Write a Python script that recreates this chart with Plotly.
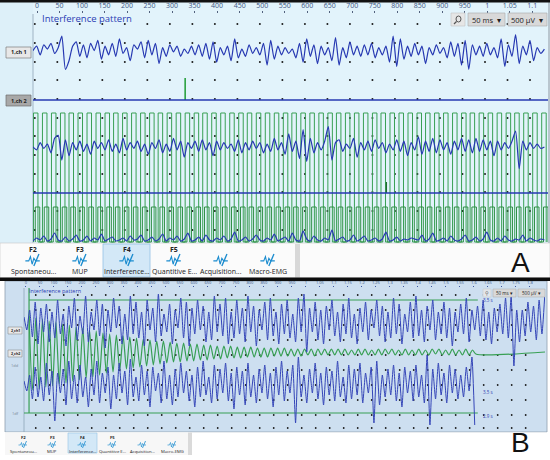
import plotly.graph_objects as go

# ======================= DATA =======================
A_TICK_MS = [0, 50, 100, 150, 200, 250, 300, 350, 400, 450, 500, 550,
             600, 650, 700, 750, 800, 850, 900, 950, 1000, 1050, 1100]
A_TICK_TEXT = ["0", "50", "100", "150", "200", "250", "300", "350", "400",
               "450", "500", "550", "600", "650", "700", "750", "800", "850",
               "900", "950", "1", "1.05", "1.1"]
B_TICK_MS = [0, 50, 100, 150, 200, 250, 300, 350, 400, 450, 500, 550, 600,
             650, 700, 750, 800, 850, 900, 950, 1000, 1050, 1100, 1150, 1200,
             1250, 1300, 1350, 1400, 1450, 1500, 1550, 1600, 1650, 1700, 1750,
             1800]
B_TICK_TEXT = ["0", "50", "100", "150", "200", "250", "300", "350", "400",
               "450", "500", "550", "600", "650", "700", "750", "800", "850",
               "900", "950", "1", "1.05", "1.1", "1.15", "1.2", "1.25", "1.3",
               "1.35", "1.4", "1.45", "1.5", "1.55", "1.6", "1.65", "1.7",
               "1.75", "1.8"]

# Panel A: samples every 8 ms starting at -9 ms (screen amplitude units, up = +)
A_T0_MS, A_DT_MS = -9, 8
A_CH1 = [1, 4, -2, 5, 2, 6, -1, 3,
         11, -12, -6, 4,
         7, -3, 5, -4, 6, 1, 8, -5, 4,
         -2, 6, -3, 9, -1, 3, -6, 5, 2, 7,
         -4, 8, -2, 6, -8, 3, -3, 5, 0, 4,
         -3, 2, -1, 4, -2, 5, -3, 6, -5, 7,
         -7, 3, -2, 4, -6, 9, -4, 2, -3, 5,
         -1, 3, -2, 6, -9, 8, -5, 4, -2, 3,
         -1, 2, -4, 6, -7, 9, -3, 5, -8, 4,
         -2, 3, -6, 10, -9, 3, -4, 7, -2, 4,
         -3, 5, -2, 6, -4, 3, -2, 4, -7, 11,
         -10, 9, -5, 4, -3, 6, -2, 4, -8, 3,
         -2, 5, -1, 3, -4, 7, -3, 6, -9, 8,
         -12, 5, -2, 4, -3, 6, -2, 3, -4, 9,
         -10, 5, -3, 12, -8, 4, -2, 8, -6, 3, -1, 2]
A_CH3 = [0, -2, 3, -1, 2, -4, 6, 8, -9, 5,
         -6, 3, -2, 4, -3, 2, -5, 4, -1, 3,
         -2, 5, -3, 2, -4, 6, -2, 3, -1, 4,
         -3, 2, -5, 3, -1, 5, -4, 2, -3, 6,
         -2, 4, -7, 3, -1, 4, -3, 5, -2, 3,
         -6, 4, -2, 3, -1, 2, -3, 5, -4, 3,
         -2, 4, -1, 3, -4, 2, -3, 6, -2, 3,
         -5, 9, -3, 4, -8, 12, -10, 6, -4, 3,
         -2, 4, 14, -9, 3, 5, -3, 2, -1, 6,
         -7, 3, -2, 4, -3, 5, -1, 3, -4, 2,
         -2, 5, -3, 4, -6, 3, -2, 7, -5, 4,
         -3, 6, -4, 5, -2, 3, -5, 4, -2, 6,
         -3, 5, -4, 6, -3, 5, -2, 4, -6, 4,
         -2, 3, -1, 4, 11, -15, 4, -2, 3, -1,
         2, -1, 0]
A_CH5 = [0, 3, 1, 5, 0, 2, 8, 1, 0, 4,
         0, 2, 6, 0, 1, 5, 0, 3, 1, 7,
         0, 2, 4, 0, 1, 3, 0, 5, 1, 2,
         6, 0, 1, 4, 0, 2, 7, 0, 3, 1,
         5, 0, 2, 8, 0, 1, 4, 0, 6, 1,
         0, 3, 1, 5, 0, 2, 9, 0, 1, 4,
         0, 2, 6, 1, 0, 3, 1, 7, 0, 2,
         4, 0, 8, 1, 0, 10, 2, 0, 5, 1,
         0, 3, 1, 11, 0, 2, 4, 0, 1, 6,
         0, 2, 5, 0, 1, 3, 0, 2, 9, 0,
         1, 4, 0, 2, 1, 3, 2, 1, 6, 0,
         2, 8, 0, 1, 3, 0, 5, 1, 0, 2,
         6, 0, 1, 4, 0, 2, 9, 1, 0, 3,
         0, 5, 1, 0, 2, 1, 6, 0, 3, 1,
         0, 2, 1]
A_STIM_ON_MS = [-8, 12, 32, 52, 71, 91, 111, 131, 151, 170, 190, 210, 230,
                250, 269, 289, 309, 329, 349, 368, 388, 408, 428, 448, 467,
                487, 507, 527, 547, 566, 586, 606, 626, 646, 665, 685, 705,
                725, 745, 764, 784, 804, 824, 844, 863, 883, 903, 923, 943,
                962, 982, 1002, 1022, 1042, 1061, 1081, 1101, 1121]
A_STIM_WIDTH_MS = 10
A_STIM2_LAG_MS = 4
A_SPIKE_MS = [329, 776]
A_SPIKE_AMP = [22, 11]

# Panel B: samples every 10 ms starting at -7 ms
B_T0_MS, B_DT_MS = -7, 10
B_CH1 = [5, -8, 12, -15, 20, -22, 14, -10, 18, -20,
         10, -16, 22, -12, 8, -24, 16, -6, 24, -18,
         6, -12, 26, -20, 10, -8, 22, -14, 18, -26,
         12, -10, 24, -6, 16, -22, 8, -18, 26, -12,
         20, -16, 10, -24, 22, -8, 14, -20, 28, -14,
         8, -10, 18, -22, 12, -6, 24, -16, 20, -24,
         14, -12, 22, -8, 16, -20, 10, -18, 26, -10,
         18, -14, 24, -22, 10, -16, 22, -12, 14, -20,
         26, -10, 16, -24, 12, -8, 20, -18, 24, -14,
         10, -22, 18, -12, 22, -16, 8, -20, 24, -10,
         28, -30, 14, -10, 20, -18, 12, -22, 16, -8,
         22, -14, 10, -20, 18, -12, 24, -16, 8, -22,
         14, -10, 20, -18, 12, -6, 22, -14, 16, -20,
         10, -16, 24, -12, 18, -22, 8, -10, 20, -16,
         26, -14, 12, -20, 16, -8, 22, -18, 10, -12,
         20, -16, 14, -24, 10, -10, 18, -12, 24, -20,
         12, -8, 16, -14, 22, -18, 10, -22, 14, -10,
         18, -12, 24, -16, 26, -44, 12, -20, 12, -14,
         20, -10, 16, -18, 22, -12, 26]
B_CH2 = [4, -6, 10, -14, 18, -12, 8, -16, 22, -10,
         14, -36, 12, -8, 16, -20, 24, -14, 10, -18,
         20, -12, 8, -22, 16, -10, 24, -18, 12, -8,
         18, -24, 10, -14, 22, -8, 14, -20, 26, -12,
         8, -16, 20, -10, 14, -22, 18, -6, 12, -18,
         24, -14, 10, -20, 16, -12, 22, -8, 14, -16,
         10, -22, 18, -12, 24, -10, 8, -18, 20, -14,
         16, -8, 22, -16, 12, -24, 18, -10, 14, -20,
         22, -12, 10, -18, 16, -8, 20, -14, 12, -22,
         18, -10, 24, -16, 14, -8, 20, -38, 28, -12,
         10, -18, 16, -8, 22, -14, 12, -20, 18, -10,
         14, -16, 24, -12, 8, -18, 20, -14, 16, -10,
         22, -18, 12, -8, 18, -38, 24, -20, 10, -12,
         16, -10, 20, -16, 12, -22, 18, -8, 14, -16,
         20, -12, 10, -18, 30, -40, 16, -14, 22, -10,
         12, -18, 20, -8, 16, -14, 10, -12, 18, -6,
         28, -40]
B_GREEN_T0_MS, B_GREEN_DT_MS = 11, 12
B_GREEN = [36, -38, 34, -37, 33, -35, 31, -34, 30, -32,
           28, -31, 27, -29, 25, -28, 24, -26, 22, -25,
           21, -23, 19, -21, 18, -20, 17, -18, 16, -17,
           15, -16, 14, -15, 13, -14, 12, -13, 11, -12,
           11, -11, 10, -10, 9, -10, 9, -9, 8, -9,
           8, -8, 7, -8, 7, -7, 6, -7, 6, -6,
           6, -6, 5, -6, 5, -5, 5, -5, 4, -5,
           4, -5, 4, -4, 4, -4, 4, -4, 3, -4,
           3, -4, 3, -3, 3, -4, 3, -3, 3, -3,
           3, -3, 3, -3, 3, -3, 2, -3, 3, -3,
           3, -3, 2, -3, 3, -3, 3, -2, 3, -3,
           2, -3, 3, -3, 2, -3, 3, -3, 2, -3,
           3, -2, 3, -3, 2, -3, 3, -3, 2, -3,
           3, -3, 2, -2]
B_CURSOR_MS = [11, 1614]
B_CURSOR_LABELS = ["3.5 s", "3.5 s", "2.9 s"]

TOOLBAR_KEYS = ["F2", "F3", "F4", "F5", "", ""]
TOOLBAR_NAMES = ["Spontaneou...", "MUP", "Interference...", "Quantitive E...",
                 "Acquisition...", "Macro-EMG"]

# ======================= LAYOUT / STYLE =======================
W, H = 550, 460
FONT = "Open Sans"
BLUE_A = "#2638b2"
BLUE_B = "#3445b8"
GREEN = "#38a054"
DOT = "#1c1c1c"
A_GAIN = 1.45          # screen px per amplitude unit, panel A EMG traces
A_RANGE = [-9, 1135]
B_RANGE = [-7, 1854]
A_ROWS = dict(ch1=52, ch2=100, top=113, ch3=147, ch4=193, low2=207, ch5=241, bottom=242)
B_ROWS = dict(ch1=322, grn=352, ch2=385, cur1=300, cur2=413)


def X(px):
    return px / W


def Y(py):
    return 1 - py / H


shapes, annotations = [], []


def rect(x0, y0, x1, y1, fill, line=None, lw=0.8, layer="below"):
    shapes.append(dict(type="rect", xref="paper", yref="paper",
                       x0=X(x0), x1=X(x1), y0=Y(y1), y1=Y(y0),
                       fillcolor=fill, layer=layer,
                       line=dict(color=line or fill, width=lw if line else 0)))


def text(px, py, s, size, color="#222", bold=False, xanchor="center",
         family=FONT):
    annotations.append(dict(xref="paper", yref="paper", x=X(px), y=Y(py),
                            text=("<b>%s</b>" % s) if bold else s,
                            showarrow=False, xanchor=xanchor, yanchor="middle",
                            font=dict(size=size, color=color, family=family)))


def icon(cx, cy, s, color="#1b8ccf"):
    pts = [(-9, 1), (-5, 1), (-3, -4), (-1, 5), (1, -2), (3, 1), (8, 1)]
    p = "M " + " L ".join("%f,%f" % (X(cx + s * a), Y(cy + s * b)) for a, b in pts)
    shapes.append(dict(type="path", xref="paper", yref="paper", path=p,
                       line=dict(color=color, width=1.3 * s), layer="above"))
    shapes.append(dict(type="line", xref="paper", yref="paper",
                       x0=X(cx + s * 1), y0=Y(cy + s * 7), x1=X(cx + s * 7), y1=Y(cy - s * 7),
                       line=dict(color=color, width=1.6 * s), layer="above"))


fig = go.Figure()

# ---------------- backgrounds ----------------
rect(0, 0, 550, 460, "white")
# panel A
rect(0, 2, 550, 243, "#e2f3fb")
rect(0, 2, 33, 243, "#ddf0f9")
shapes.append(dict(type="line", xref="paper", yref="paper", x0=X(33), x1=X(33),
                   y0=Y(14), y1=Y(243), line=dict(color="#9fb4c4", width=1), layer="below"))
rect(548, 2, 550, 243, "#b9c6cf")
rect(0, 0, 550, 2.5, "#111111", layer="above")
# toolbar A
rect(0, 243, 550, 278, "#fbfbfb", line="#c8c8c8", lw=0.6)
rect(103, 244, 150, 277, "#d3e8f7", line="#94c2e6", lw=0.8)
rect(295, 244, 300, 278, "#d8d8d8")
rect(0, 277.5, 550, 281, "#0d0d0d", layer="above")
# panel B
rect(5, 281, 547, 432, "#cddff0", line="#8f9fae", lw=0.8)
shapes.append(dict(type="line", xref="paper", yref="paper", x0=X(24), x1=X(24),
                   y0=Y(288), y1=Y(432), line=dict(color="#8ea4b8", width=0.8), layer="below"))
# toolbar B
rect(0, 432.5, 550, 460, "#ffffff")
rect(5, 432.5, 190, 455, "#f7f7f7")
rect(68, 433, 97, 453, "#d3e8f7", line="#94c2e6", lw=0.6)
rect(188, 432.5, 192, 455, "#dadada")

# ---------------- grid dots ----------------
a_dot_x, a_dot_y = [], []
for r in [24, 43, 62, 80, 99, 118, 136, 155, 174, 192, 211, 230]:
    for t in A_TICK_MS:
        a_dot_x.append(t - 5)
        a_dot_y.append(r)
fig.add_trace(go.Scatter(x=a_dot_x, y=a_dot_y, mode="markers", xaxis="x", yaxis="y",
                         marker=dict(size=2, color=DOT), hoverinfo="skip"))
b_dot_x, b_dot_y = [], []
for r in [295, 310, 325, 340, 355, 370, 385, 400, 415, 428]:
    for t in B_TICK_MS:
        b_dot_x.append(t - 15)
        b_dot_y.append(r)
fig.add_trace(go.Scatter(x=b_dot_x, y=b_dot_y, mode="markers", xaxis="x2", yaxis="y2",
                         marker=dict(size=1.8, color=DOT), hoverinfo="skip"))


def times(t0, dt, n):
    return [t0 + dt * i for i in range(n)]


def line(x, y, color, width, ax="", shape="linear", smooth=None):
    kw = dict(color=color, width=width, shape=shape)
    if smooth is not None:
        kw["smoothing"] = smooth
    fig.add_trace(go.Scatter(x=x, y=y, mode="lines", xaxis="x" + ax, yaxis="y" + ax,
                             line=kw, hoverinfo="skip"))


# ---------------- panel A traces ----------------
def stim(onsets, lag, top, low):
    xs, ys = [], []
    for on in onsets:
        s = on + lag
        xs += [s, s, s + A_STIM_WIDTH_MS, s + A_STIM_WIDTH_MS]
        ys += [low, top, top, low]
    return xs, ys


sx, sy = stim(A_STIM_ON_MS, 0, A_ROWS["top"], A_ROWS["bottom"])
line(sx, sy, GREEN, 1.0)
sx, sy = stim(A_STIM_ON_MS, A_STIM2_LAG_MS, A_ROWS["low2"], A_ROWS["bottom"])
line(sx, sy, "#2f8f45", 1.0)
line([A_SPIKE_MS[0]] * 2, [A_ROWS["ch2"], A_ROWS["ch2"] - A_SPIKE_AMP[0]], "#2aa040", 1.6)
line([A_SPIKE_MS[1]] * 2, [A_ROWS["ch4"], A_ROWS["ch4"] - A_SPIKE_AMP[1]], "#1f6b30", 1.3)

line(times(A_T0_MS, A_DT_MS, len(A_CH1)), [A_ROWS["ch1"] - A_GAIN * v for v in A_CH1],
     BLUE_A, 1.2, shape="spline", smooth=0.6)
line(A_RANGE, [A_ROWS["ch2"]] * 2, BLUE_A, 1.3)
line(times(A_T0_MS, A_DT_MS, len(A_CH3)), [A_ROWS["ch3"] - A_GAIN * v for v in A_CH3],
     BLUE_A, 1.2, shape="spline", smooth=0.6)
line(A_RANGE, [A_ROWS["ch4"]] * 2, BLUE_A, 1.3)
line(times(A_T0_MS, A_DT_MS, len(A_CH5)), [A_ROWS["ch5"] - v for v in A_CH5],
     BLUE_A, 1.2, shape="spline", smooth=0.6)

# ---------------- panel B traces ----------------
line([B_CURSOR_MS[0]] * 2, [288, B_ROWS["cur2"]], GREEN, 1.2, ax="2")
line(B_CURSOR_MS, [B_ROWS["cur1"]] * 2, GREEN, 1.0, ax="2")
line([B_RANGE[0], B_CURSOR_MS[1]], [B_ROWS["cur2"]] * 2, GREEN, 1.2, ax="2")
gt = times(B_GREEN_T0_MS, B_GREEN_DT_MS, len(B_GREEN))
line(gt + [B_RANGE[1]], [B_ROWS["grn"] - v for v in B_GREEN] + [B_ROWS["grn"]],
     GREEN, 1.2, ax="2", shape="spline", smooth=0.7)
line(times(B_T0_MS, B_DT_MS, len(B_CH1)), [B_ROWS["ch1"] - v for v in B_CH1],
     BLUE_B, 1.0, ax="2", shape="spline", smooth=0.5)
line(times(B_T0_MS, B_DT_MS, len(B_CH2)), [B_ROWS["ch2"] - v for v in B_CH2],
     BLUE_B, 1.0, ax="2", shape="spline", smooth=0.5)
for row, lab in zip([300, 392, 416], B_CURSOR_LABELS):
    annotations.append(dict(xref="x2", yref="y2", x=B_CURSOR_MS[1] + 10, y=row,
                            text=lab, showarrow=False, xanchor="left",
                            font=dict(size=4.5, color="#3040b0", family=FONT)))

# ---------------- panel A texts / widgets ----------------
text(40, 19, "Interference pattern", 9.5, color="#2b3db4", xanchor="left")
rect(6, 47, 31, 58, "#e8e8e8", line="#7d7d7d", lw=0.7, layer="above")
text(18.5, 52.5, "1,ch 1", 5.5, bold=True)
rect(6, 95, 31, 106, "#a8a8a8", line="#6d6d6d", lw=0.7, layer="above")
text(18.5, 100.5, "1,ch 2", 5.5, bold=True)
# zoom and scale selectors
rect(451, 13, 465, 26, "#e6e6e6", line="#c4c4c4", lw=0.6, layer="above")
shapes.append(dict(type="circle", xref="paper", yref="paper", x0=X(456), x1=X(461),
                   y0=Y(22), y1=Y(16), line=dict(color="#555", width=1), layer="above"))
shapes.append(dict(type="line", xref="paper", yref="paper", x0=X(456.5), x1=X(454),
                   y0=Y(21.5), y1=Y(24), line=dict(color="#555", width=1.2), layer="above"))
rect(468, 13, 505, 26, "#d9d9d9", line="#a9a9a9", lw=0.6, layer="above")
text(486, 19.5, "50 ms  ▾", 7.5, color="#222")
rect(508, 13, 547, 26, "#d9d9d9", line="#a9a9a9", lw=0.6, layer="above")
text(527, 19.5, "500 µV  ▾", 7.5, color="#222")

# toolbar A
a_cx = [33, 80, 127, 174, 221, 268]
for cx, k, nm in zip(a_cx, TOOLBAR_KEYS, TOOLBAR_NAMES):
    if k:
        text(cx, 249.5, k, 7, bold=True)
    icon(cx, 260, 0.85)
    text(cx, 271.5, nm, 7, color="#222")
text(520, 262, "A", 28, color="#111", family="Liberation Sans")

# ---------------- panel B texts / widgets ----------------
text(27, 291, "Interference pattern", 5.5, color="#2b3db4", xanchor="left")
rect(8, 327, 22, 334, "#e8e8e8", line="#7d7d7d", lw=0.5, layer="above")
text(15, 330.5, "2,ch1", 3.6, bold=True)
rect(8, 350, 22, 357, "#e8e8e8", line="#7d7d7d", lw=0.5, layer="above")
text(15, 353.5, "2,ch2", 3.6, bold=True)
text(15, 365, "1dd", 4, color="#7a8796")
text(15, 413, "1df", 4, color="#7a8796")
rect(483, 289, 491, 297, "#e2e6ea", line="#c4c4c4", lw=0.5, layer="above")
text(487, 293, "⚲", 5, color="#555")
rect(493, 289, 516, 297, "#d9d9d9", line="#a9a9a9", lw=0.5, layer="above")
text(504.5, 293, "50 ms ▾", 4.5)
rect(518, 289, 545, 297, "#d9d9d9", line="#a9a9a9", lw=0.5, layer="above")
text(531.5, 293, "500 µV ▾", 4.5)

b_cx = [23, 52, 82, 112, 142, 172]
for cx, k, nm in zip(b_cx, TOOLBAR_KEYS, TOOLBAR_NAMES):
    if k:
        text(cx, 437, k, 4.2, bold=True)
    icon(cx, 444.5, 0.5)
    text(cx, 451, nm, 4.2, color="#222")
text(520, 442, "B", 28, color="#111", family="Liberation Sans")

# ---------------- axes ----------------
fig.update_layout(
    width=W, height=H, margin=dict(l=0, r=0, t=0, b=0),
    paper_bgcolor="white", plot_bgcolor="rgba(0,0,0,0)", showlegend=False,
    shapes=shapes, annotations=annotations,
    xaxis=dict(domain=[X(33), X(548)], range=A_RANGE, anchor="y", side="top",
               tickmode="array", tickvals=A_TICK_MS, ticktext=A_TICK_TEXT,
               tickfont=dict(size=7, color="#3b5583", family=FONT),
               ticks="outside", ticklen=2, tickcolor="#52627e",
               showgrid=False, zeroline=False, showline=False, fixedrange=True),
    yaxis=dict(domain=[Y(243), Y(14)], range=[243, 14], anchor="x",
               visible=False, fixedrange=True),
    xaxis2=dict(domain=[X(24), X(545)], range=B_RANGE, anchor="y2", side="top",
                tickmode="array", tickvals=B_TICK_MS, ticktext=B_TICK_TEXT,
                tickfont=dict(size=4, color="#3b5583", family=FONT),
                ticks="outside", ticklen=1.5, tickcolor="#3b55a0",
                showgrid=False, zeroline=False, showline=False, fixedrange=True),
    yaxis2=dict(domain=[Y(432), Y(288)], range=[432, 288], anchor="x2",
                visible=False, fixedrange=True),
)

fig.write_html("out.html", config={"displayModeBar": False},
               post_script="document.body.style.margin='0px';"
                           "document.body.style.overflow='hidden';")
